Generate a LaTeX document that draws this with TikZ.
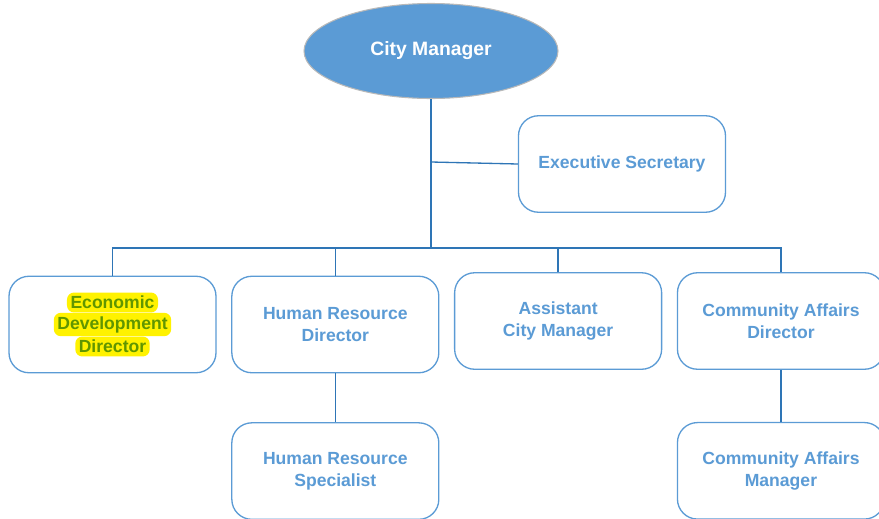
\documentclass[tikz,border=0pt]{standalone}
\usepackage{fontspec}
\setmainfont{Liberation Sans}
\usetikzlibrary{positioning}
\usetikzlibrary{shapes}

\definecolor{boxblue}{RGB}{91,155,213}
\definecolor{lineblue}{RGB}{46,117,182}
\definecolor{hlgreen}{RGB}{96,150,0}

\tikzset{
  post/.style={draw=boxblue,line width=0.75pt,rounded corners=0.4cm,fill=white,
    minimum width=4.14cm,minimum height=1.93cm,align=center,
    text=boxblue,font=\bfseries\fontsize{10}{12.5}\selectfont},
  boss/.style={ellipse,draw=gray!55,line width=0.6pt,fill=boxblue,
    minimum width=5.08cm,minimum height=1.9cm,text=white,
    font=\bfseries\fontsize{11}{13}\selectfont},
  mark line/.style={fill=yellow,rounded corners=4pt,inner sep=2pt,
    text=hlgreen,font=\bfseries\fontsize{10}{12}\selectfont},
  link/.style={draw=lineblue,line width=0.75pt}
}

\begin{document}
\begin{tikzpicture}[node distance=0.29cm]
  \useasboundingbox (0,0) rectangle (17.58,-10.36);

  % top
  \node [boss] (cm) at (8.62,-1.02) {City Manager};
  \node [post] (sec) at (12.44,-3.28) {Executive Secretary};

  % first row
  \node [post] (ed) at (2.25,-6.49) {};
  \node [post,right=of ed] (hrd) {Human Resource\\Director};
  \node [post,right=of hrd,yshift=0.07cm] (acm) {Assistant\\City Manager};
  \node [post,right=of acm] (cad) {Community Affairs\\Director};

  % highlighted text
  \node [mark line] (ed1) at ([yshift=0.44cm]ed.center) {Economic};
  \node [mark line] (ed2) at (ed.center) {Development};
  \node [mark line] (ed3) at ([yshift=-0.44cm]ed.center) {Director};

  % second row
  \node [post,below=0.975cm of hrd] (hrs) {Human Resource\\Specialist};
  \node [post,below=1.04cm of cad] (cam) {Community Affairs\\Manager};

  % connectors
  \coordinate (bus) at (8.62,-4.96);
  \coordinate (tap) at (8.62,-3.24);
  \draw [link] (cm.south) -- (bus);
  \draw [link] (tap) -- (sec.west);
  \draw [link] (ed.north) |- (bus) -| (cad.north);
  \draw [link] (hrd.north) |- (bus);
  \draw [link] (acm.north) |- (bus);
  \draw [link] (hrd.south) -- (hrs.north);
  \draw [link] (cad.south) -- (cam.north);
\end{tikzpicture}
\end{document}
